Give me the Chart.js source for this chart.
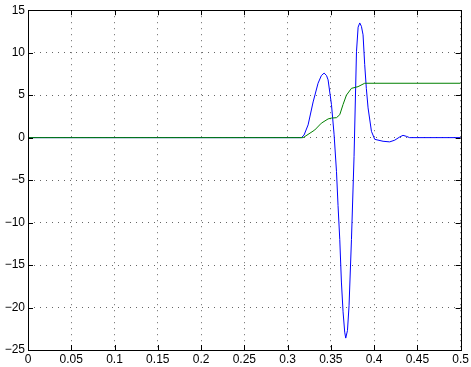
<!DOCTYPE html>
<html lang="en">
<head>
  <meta charset="UTF-8">
  <title>Signal response</title>
  <script src="https://cdn.jsdelivr.net/npm/chart.js"></script>
  <style>
    body { margin: 0; background: #fff; }
    #wrap { width: 471px; height: 367px; }
  </style>
</head>
<body>
  <div id="wrap"><canvas id="grafico"></canvas></div>

  <script>
    // blue series (time, value)
    const blueTime = [0, 0.316, 0.319, 0.3237, 0.3295, 0.3352, 0.339, 0.3422, 0.345, 0.3468, 0.3507, 0.3537,
      0.3565, 0.3583, 0.3603, 0.3622, 0.3641, 0.366, 0.3672, 0.3692, 0.371, 0.3738, 0.3768, 0.3796,
      0.3815, 0.3834, 0.3853, 0.3872, 0.3891, 0.391, 0.393, 0.3969, 0.4007, 0.4103, 0.418, 0.4238,
      0.4296, 0.4334, 0.4373, 0.441, 0.5];
    const blueValues = [0, 0, 0.3, 1.5, 4.2, 6.4, 7.3, 7.6, 7.3, 6.8, 3.9, 0.4,
      -4, -8, -12, -17, -20.5, -22.9, -23.6, -22.7, -19.8, -12, -2.2, 10.1,
      13.0, 13.5, 13.1, 12.1, 8.6, 5.8, 3.5, 0.74, -0.2, -0.43, -0.5, -0.3,
      0.08, 0.27, 0.15, 0, 0];

    // green series (time, value)
    const greenTime = [0, 0.318, 0.3314, 0.339, 0.3468, 0.3507, 0.3565, 0.3603, 0.3641, 0.368, 0.3738, 0.3814, 0.3891, 0.5];
    const greenValues = [0, 0, 0.9, 1.7, 2.2, 2.3, 2.35, 2.7, 3.9, 5.0, 5.8, 6.0, 6.4, 6.4];

    const xTicks = [0, 0.05, 0.1, 0.15, 0.2, 0.25, 0.3, 0.35, 0.4, 0.45, 0.5];
    const yTicks = [-25, -20, -15, -10, -5, 0, 5, 10, 15];

    const pontos = (xs, ys) => xs.map((x, i) => ({ x: x, y: ys[i] }));

    // caixa preta + marcas de escala para dentro (estilo matlab)
    const caixa = {
      id: 'caixa',
      afterDraw(chart) {
        const c = chart.ctx;
        const a = chart.chartArea;
        const sx = chart.scales.x, sy = chart.scales.y;
        const len = 5;
        c.save();
        c.strokeStyle = '#000';
        c.lineWidth = 1;
        c.beginPath();
        xTicks.forEach(v => {
          const px = Math.round(sx.getPixelForValue(v)) + 0.5;
          c.moveTo(px, a.bottom); c.lineTo(px, a.bottom - len);
          c.moveTo(px, a.top); c.lineTo(px, a.top + len);
        });
        yTicks.forEach(v => {
          const py = Math.round(sy.getPixelForValue(v)) + 0.5;
          c.moveTo(a.left, py); c.lineTo(a.left + len, py);
          c.moveTo(a.right, py); c.lineTo(a.right - len, py);
        });
        c.stroke();
        c.strokeRect(Math.round(a.left) + 0.5, Math.round(a.top) + 0.5,
          Math.round(a.right - a.left), Math.round(a.bottom - a.top));
        c.restore();
      }
    };

    const fonte = { family: "'Liberation Sans', Arial, sans-serif", size: 12 };

    new Chart(document.getElementById('grafico'), {
      type: 'line',
      data: {
        datasets: [
          {
            data: pontos(greenTime, greenValues),
            borderColor: '#008000',
            borderWidth: 1,
            pointRadius: 0,
            tension: 0,
            order: 0
          },
          {
            data: pontos(blueTime, blueValues),
            borderColor: '#0000ff',
            borderWidth: 1,
            pointRadius: 0,
            tension: 0,
            order: 1
          }
        ]
      },
      options: {
        responsive: true,
        maintainAspectRatio: false,
        animation: false,
        layout: { padding: { top: 10, right: 10, left: 0, bottom: 0 } },
        plugins: { legend: { display: false }, tooltip: { enabled: false } },
        scales: {
          x: {
            type: 'linear',
            min: 0,
            max: 0.5,
            afterBuildTicks: s => { s.ticks = xTicks.map(v => ({ value: v })); },
            afterFit: s => { s.height = 17; },
            ticks: {
              color: '#000',
              font: fonte,
              padding: 2,
              maxRotation: 0,
              callback: v => String(+v.toFixed(2))
            },
            grid: { color: '#666', drawTicks: false, lineWidth: 1 },
            border: { display: false, dash: [1, 5] }
          },
          y: {
            min: -25,
            max: 15,
            afterBuildTicks: s => { s.ticks = yTicks.map(v => ({ value: v })); },
            afterFit: s => { s.width = 28; },
            ticks: {
              color: '#000',
              font: fonte,
              padding: 3,
              callback: v => String(v).replace('-', '\u2212')
            },
            grid: { color: '#666', drawTicks: false, lineWidth: 1 },
            border: { display: false, dash: [1, 5] }
          }
        }
      },
      plugins: [caixa]
    });
  </script>
</body>
</html>
